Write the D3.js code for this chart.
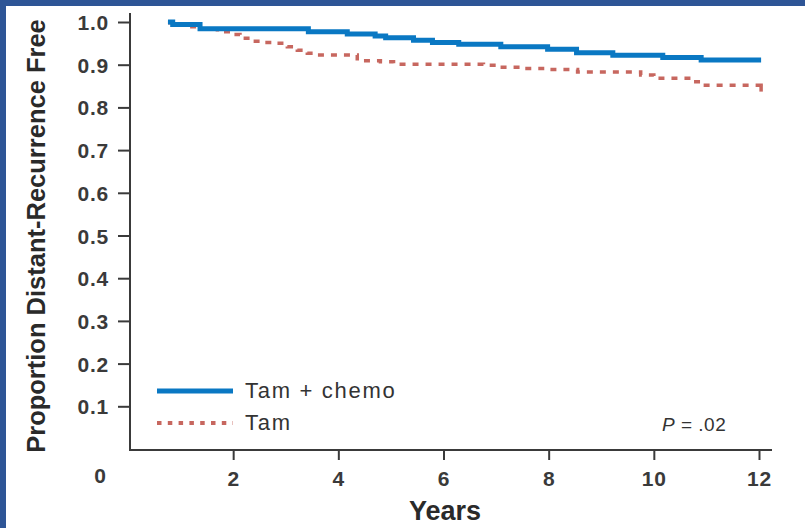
<!DOCTYPE html>
<html>
<head>
<meta charset="utf-8">
<script src="https://cdn.jsdelivr.net/npm/d3@7"></script>
<style>
  html, body { margin: 0; padding: 0; background: #fff; }
  svg { display: block; }
</style>
</head>
<body>
<svg id="chart" width="805" height="528"></svg>
<script>
// Kaplan-Meier style step data
const chemoYears = [0.76, 0.85, 1.37, 3.43, 4.17, 4.7, 4.9, 5.43, 5.79, 6.29, 7.09, 7.98, 8.53, 9.22, 10.17, 10.9, 12.04];
const chemoFree  = [1.0, 0.994, 0.984, 0.977, 0.972, 0.967, 0.963, 0.957, 0.952, 0.948, 0.942, 0.936, 0.928, 0.922, 0.917, 0.911, 0.911];

const tamYears = [0.76, 0.9, 1.05, 1.3, 1.7, 1.94, 2.13, 2.38, 2.6, 2.8, 3.03, 3.22, 3.41, 3.6, 4.36, 4.8, 5.05, 6.76, 7.03, 7.52, 7.95, 8.55, 9.75, 10.0, 10.7, 10.9, 12.04, 12.04];
const tamFree  = [0.998, 0.993, 0.989, 0.983, 0.977, 0.971, 0.962, 0.955, 0.952, 0.950, 0.942, 0.934, 0.927, 0.923, 0.909, 0.907, 0.901, 0.899, 0.894, 0.891, 0.889, 0.883, 0.876, 0.868, 0.860, 0.852, 0.852, 0.837];

const xTicks = [2, 4, 6, 8, 10, 12];
const yTicks = [0.1, 0.2, 0.3, 0.4, 0.5, 0.6, 0.7, 0.8, 0.9, 1.0];
const seriesNames = ["Tam + chemo", "Tam"];

const cfg = {
    blue: "#0a78c3",
    red: "#c7675f",
    ink: "#3a3a3a",
    frame: "#2e5596",
    font: "'Liberation Sans', Arial, sans-serif"
};

const svg = d3.select("#chart");

// frame strips on top and left
svg.append("rect").attr("x", 0).attr("y", 0).attr("width", 805).attr("height", 6).attr("fill", cfg.frame);
svg.append("rect").attr("x", 0).attr("y", 0).attr("width", 6).attr("height", 528).attr("fill", cfg.frame);

const x = d3.scaleLinear().domain([0, 12]).range([128, 759]);
const y = d3.scaleLinear().domain([0, 1]).range([449, 22]);

// y axis
const yAxis = svg.append("g")
    .attr("transform", `translate(${x(0) + 2},0)`)
    .call(d3.axisLeft(y).tickValues(yTicks).tickSize(12).tickSizeOuter(0).tickPadding(9)
        .tickFormat(d3.format(".1f")));
yAxis.select(".domain").remove();
yAxis.selectAll(".tick line").attr("stroke", cfg.ink).attr("stroke-width", 2);
yAxis.selectAll(".tick text")
    .attr("fill", cfg.ink)
    .attr("font-family", cfg.font)
    .attr("font-weight", "bold")
    .attr("font-size", "21px")
    .attr("letter-spacing", "0.8px")
    .attr("dy", "0.36em");

svg.append("line")
    .attr("x1", x(0) + 2).attr("x2", x(0) + 2)
    .attr("y1", y(1) - 9).attr("y2", y(0) + 1)
    .attr("stroke", cfg.ink).attr("stroke-width", 2);

// x axis
const xAxis = svg.append("g")
    .attr("transform", `translate(0,${y(0) + 1})`)
    .call(d3.axisBottom(x).tickValues(xTicks).tickSize(10).tickSizeOuter(0).tickPadding(7));
xAxis.select(".domain").remove();
xAxis.selectAll(".tick line").attr("stroke", cfg.ink).attr("stroke-width", 2);
xAxis.selectAll(".tick text")
    .attr("fill", cfg.ink)
    .attr("font-family", cfg.font)
    .attr("font-weight", "bold")
    .attr("font-size", "21px")
    .attr("letter-spacing", "0.8px")
    .attr("dy", "0.9em");

svg.append("line")
    .attr("x1", x(0) + 1).attr("x2", x(12) + 13)
    .attr("y1", y(0) + 1).attr("y2", y(0) + 1)
    .attr("stroke", cfg.ink).attr("stroke-width", 2);

// origin label
svg.append("text")
    .attr("x", x(0) - 28).attr("y", y(0) + 34)
    .attr("text-anchor", "middle")
    .attr("fill", cfg.ink)
    .attr("font-family", cfg.font)
    .attr("font-weight", "bold")
    .attr("font-size", "21px")
    .text("0");

// axis titles
svg.append("text")
    .attr("x", 445).attr("y", 520)
    .attr("text-anchor", "middle")
    .attr("fill", "#2a2a2a")
    .attr("font-family", cfg.font)
    .attr("font-weight", "bold")
    .attr("font-size", "27px")
    .text("Years");

svg.append("text")
    .attr("transform", "translate(45,236) rotate(-90)")
    .attr("text-anchor", "middle")
    .attr("fill", "#2a2a2a")
    .attr("font-family", cfg.font)
    .attr("font-weight", "bold")
    .attr("font-size", "25.5px")
    .text("Proportion Distant-Recurrence Free");

// curves
const line = d3.line()
    .x(d => x(d[0]))
    .y(d => y(d[1]))
    .curve(d3.curveStepAfter);

const chemoPts = chemoYears.map((t, i) => [t, chemoFree[i]]);
const tamPts = tamYears.map((t, i) => [t, tamFree[i]]);

svg.append("path")
    .attr("d", line(tamPts))
    .attr("fill", "none")
    .attr("stroke", cfg.red)
    .attr("stroke-width", 3.5)
    .attr("stroke-dasharray", "6 7");

// closing drop of the Tam curve, drawn solid so the dash pattern does not hide it
svg.append("path")
    .attr("d", line(tamPts.slice(-2)))
    .attr("fill", "none")
    .attr("stroke", cfg.red)
    .attr("stroke-width", 3.5);

svg.append("path")
    .attr("d", line(chemoPts))
    .attr("fill", "none")
    .attr("stroke", cfg.blue)
    .attr("stroke-width", 5);

// legend
const legend = svg.append("g").attr("transform", "translate(157,391)");
const legendStyles = [
    { stroke: cfg.blue, width: 5, dash: null },
    { stroke: cfg.red, width: 4, dash: "4.5 6.3" }
];
seriesNames.forEach((name, i) => {
    const g = legend.append("g").attr("transform", `translate(0,${i * 32})`);
    g.append("line")
        .attr("x1", 0).attr("x2", 76)
        .attr("stroke", legendStyles[i].stroke)
        .attr("stroke-width", legendStyles[i].width)
        .attr("stroke-dasharray", legendStyles[i].dash);
    g.append("text")
        .attr("x", 88).attr("y", 7)
        .attr("fill", "#333")
        .attr("font-family", cfg.font)
        .attr("font-size", "22px")
        .attr("letter-spacing", "1.7px")
        .text(name);
});

// p value
const pText = svg.append("text")
    .attr("x", 662).attr("y", 431)
    .attr("fill", "#333")
    .attr("font-family", cfg.font)
    .attr("font-size", "19px")
    .attr("letter-spacing", "0.5px");
pText.append("tspan").attr("font-style", "italic").text("P");
pText.append("tspan").text(" = .02");
</script>
</body>
</html>
